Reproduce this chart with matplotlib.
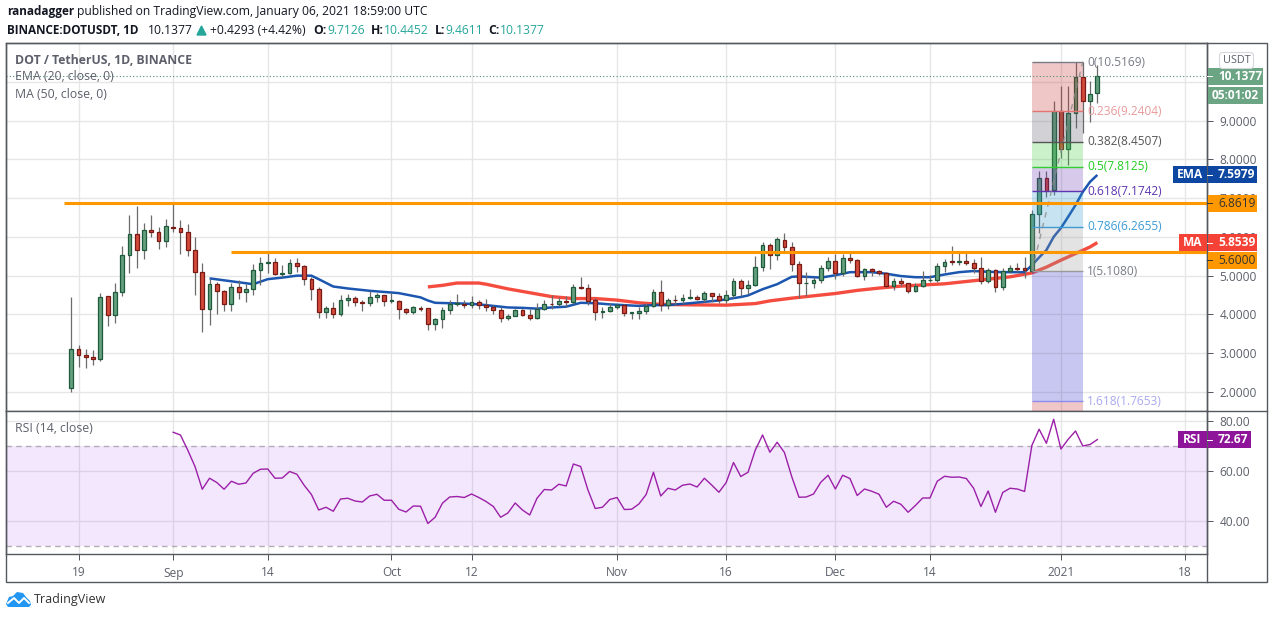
import matplotlib
matplotlib.use('Agg')
import matplotlib.pyplot as plt
from matplotlib.patches import Rectangle, Polygon, FancyBboxPatch

plt.rcParams['font.family'] = ['Open Sans', 'DejaVu Sans']

W, H = 1274, 618

# daily candles, day 0 = 18 Aug 2020
opens = [2.10,3.11,2.95,2.90,2.84,4.47,3.98,4.58,5.53,6.07,5.66,6.18,6.12,5.89,6.25,6.23,6.12,5.66,5.09,4.14,
         4.78,4.60,4.26,4.71,4.58,4.65,5.14,5.32,5.35,5.04,5.07,5.32,5.25,4.91,4.65,4.06,4.16,4.01,4.37,4.42,
         4.32,4.29,4.45,4.50,4.35,4.35,4.14,4.06,4.17,4.16,3.76,3.87,4.12,4.27,4.28,4.24,4.33,4.24,4.19,4.11,
         3.91,3.97,4.12,3.99,3.91,4.15,4.28,4.26,4.35,4.32,4.72,4.69,4.36,4.07,4.10,4.20,4.24,4.05,4.04,4.10,
         4.23,4.59,4.25,4.38,4.36,4.43,4.46,4.40,4.56,4.48,4.36,4.51,4.87,4.68,4.77,5.23,5.80,5.53,5.92,5.74,
         5.30,4.80,4.81,4.90,5.21,5.39,5.07,5.46,5.40,4.98,5.18,5.12,5.08,4.73,4.87,4.82,4.60,4.74,4.89,4.90,
         5.26,5.37,5.35,5.37,5.33,5.20,4.87,5.15,4.71,5.13,5.21,5.20,5.12,6.59,7.53,7.22,9.24,8.26,9.19,10.12,
         9.50,9.7126]
highs = [4.45,3.22,3.12,3.09,4.56,4.47,4.82,5.77,6.57,6.80,6.36,6.57,6.25,6.47,6.85,6.44,6.34,6.00,5.32,4.91,
         4.83,4.63,4.81,4.89,4.78,5.30,5.49,5.58,5.45,5.27,5.43,5.45,5.27,4.96,4.70,4.22,4.32,4.50,4.52,4.47,
         4.37,4.60,4.55,4.50,4.55,4.37,4.16,4.21,4.22,4.16,3.92,4.18,4.36,4.52,4.36,4.47,4.36,4.39,4.24,4.18,
         4.00,4.15,4.15,4.15,4.30,4.36,4.49,4.46,4.47,4.78,4.96,4.79,4.43,4.18,4.30,4.28,4.28,4.06,4.20,4.30,
         4.65,4.88,4.43,4.49,4.52,4.65,4.49,4.61,4.56,4.56,4.62,4.95,4.91,4.88,5.50,5.88,5.85,5.99,6.10,5.86,
         5.39,5.09,4.97,5.27,5.47,5.55,5.55,5.58,5.44,5.21,5.21,5.15,5.10,4.94,4.93,4.82,4.82,5.11,5.01,5.32,
         5.42,5.76,5.63,5.59,5.44,5.47,5.21,5.18,5.21,5.28,5.32,5.47,6.69,7.70,7.71,9.51,9.88,9.88,10.50,10.5169,
         10.01,10.4452]
lows = [2.00,2.64,2.61,2.69,2.79,3.69,3.77,4.47,5.08,5.19,5.44,5.99,5.68,5.73,6.12,5.57,5.52,4.49,3.54,3.72,
        4.00,4.10,4.08,4.41,4.31,4.49,4.75,5.07,5.02,4.96,5.04,5.09,4.77,4.36,3.90,3.90,3.92,3.95,4.23,4.21,
        4.10,4.23,4.31,4.23,4.29,3.87,4.02,4.01,4.10,3.59,3.60,3.65,4.01,4.23,4.17,4.17,4.13,4.08,4.00,3.81,
        3.86,3.96,3.96,3.86,3.88,4.12,4.15,4.23,4.20,4.26,4.65,4.24,3.86,3.91,4.06,4.13,3.96,3.88,3.88,4.01,
        4.20,4.09,4.14,4.24,4.27,4.41,4.36,4.33,4.33,4.30,4.30,4.43,4.48,4.54,4.73,5.11,5.16,5.40,5.59,5.11,
        4.43,4.48,4.67,4.82,5.12,4.92,4.99,5.32,4.96,4.88,4.98,5.01,4.71,4.63,4.74,4.55,4.57,4.71,4.83,4.83,
        5.10,5.28,5.28,5.27,5.08,4.78,4.82,4.58,4.63,5.07,5.09,4.94,5.10,6.10,7.03,7.09,8.03,7.85,8.81,8.67,
        8.97,9.4611]
closes = [3.11,2.95,2.90,2.84,4.45,3.98,4.58,5.53,6.07,5.66,6.18,6.12,5.89,6.28,6.23,6.12,5.66,5.09,4.14,4.78,
          4.60,4.26,4.71,4.58,4.65,5.14,5.32,5.35,5.04,5.07,5.32,5.25,4.91,4.65,4.06,4.16,4.01,4.37,4.42,4.32,
          4.29,4.45,4.50,4.35,4.36,4.14,4.06,4.19,4.15,3.75,3.87,4.12,4.28,4.29,4.24,4.33,4.24,4.19,4.11,3.91,
          3.97,4.12,3.99,3.91,4.15,4.28,4.26,4.35,4.32,4.72,4.68,4.35,4.07,4.10,4.20,4.24,4.05,4.06,4.10,4.23,
          4.59,4.25,4.38,4.36,4.43,4.46,4.40,4.56,4.48,4.36,4.51,4.87,4.68,4.77,5.23,5.80,5.53,5.95,5.74,5.30,
          4.81,4.82,4.90,5.21,5.39,5.07,5.46,5.40,4.98,5.18,5.12,5.08,4.73,4.87,4.82,4.60,4.74,4.90,4.90,5.26,
          5.36,5.35,5.37,5.33,5.20,4.87,5.15,4.71,5.13,5.21,5.18,5.15,6.59,7.53,7.19,9.24,8.26,9.19,10.12,9.50,
          9.69,10.1377]

ema_days = [19,21,23,25,27,29,31,33,34,36,38,41,45,48,49,50,52,54,56,58,60,62,64,66,68,70,72,74,76,78,80,82,85,
            89,90,92,93,95,97,99,100,103,105,107,110,112,114,116,118,120,122,124,126,128,130,131,132,133,134,135,136,137,138,139,140,141]
ema_vals = [4.93,4.88,4.83,4.78,4.91,4.95,5.00,5.00,4.91,4.72,4.67,4.61,4.55,4.44,4.36,4.30,4.29,4.28,4.26,4.22,4.18,4.17,4.15,4.18,4.20,4.30,4.29,4.26,4.24,4.22,4.24,4.24,4.29,
            4.36,4.39,4.45,4.49,4.65,4.78,4.97,4.98,4.95,5.01,5.09,5.09,5.05,4.99,4.96,4.96,5.03,5.09,5.12,5.10,5.09,5.09,5.09,5.27,5.47,5.66,6.00,6.23,6.52,6.82,7.16,7.42,7.5979]

ma_days = [49,51,53,56,57,60,63,66,69,72,75,78,81,84,90,94,96,99,102,105,108,111,114,117,120,123,126,129,132,134,136,138,140,141]
ma_vals = [4.71,4.75,4.81,4.81,4.78,4.66,4.56,4.46,4.41,4.41,4.37,4.30,4.26,4.25,4.24,4.28,4.35,4.42,4.48,4.54,4.62,4.68,4.73,4.76,4.79,4.85,4.91,4.97,5.07,5.22,5.40,5.57,5.74,5.8539]

rsi_start = 14
rsi_vals = [75.6,74.5,68.5,61.9,52.8,57.2,55.5,52.8,56.0,54.8,55.3,59.2,60.8,60.9,57.2,57.3,59.9,58.8,54.4,50.7,
            44.5,45.6,44.0,48.9,49.2,48.1,47.7,50.1,50.8,48.4,48.4,44.8,43.7,46.1,46.0,39.1,41.6,47.2,49.7,49.9,
            49.5,50.9,49.5,47.9,45.9,41.6,43.3,47.3,44.5,42.5,49.2,52.7,52.5,54.8,54.1,62.9,61.9,52.5,45.1,45.6,
            48.7,49.5,44.7,44.8,46.9,50.7,59.6,50.1,53.2,52.5,54.4,54.9,53.7,57.2,54.5,51.6,55.5,63.5,57.9,59.6,
            68.5,74.5,67.6,71.6,67.5,57.9,49.6,49.7,50.9,55.6,58.4,52.9,58.4,57.1,50.3,52.9,52.0,50.8,45.6,48.0,
            46.8,43.6,46.3,49.3,49.3,56.0,58.0,57.6,57.7,57.1,53.2,45.9,52.1,43.6,51.5,53.2,52.9,51.9,70.3,76.8,
            71.2,80.8,68.9,72.8,76.1,70.1,70.7,72.67]

tick_days = [1,14,27,44,55,75,90,105,118,136,153]
tick_labels = ['19','Sep','14','Oct','12','Nov','16','Dec','14','2021','18']
price_ticks = [2,3,4,5,6,7,8,9,10]
price_labels = ['2.0000','3.0000','4.0000','5.0000','6.0000','7.0000','8.0000','9.0000','']
rsi_ticks = [40,60,80]

# fib retracement
fib_levels = [0,0.236,0.382,0.5,0.618,0.786,1,1.618]
fib_prices = [10.5169,9.2404,8.4507,7.8125,7.1742,6.2655,5.1080,1.7653]
fib_line_cols = ['#787b86','#e57373','#555555','#33cc33','#5e35b1','#3d9bd4','#9a9a9a','#8c8cf0']
fib_text_cols = ['#787b86','#e89a9a','#555555','#22cc22','#5e35b1','#3d9bd4','#787b86','#a9a9f0']
fib_fills = ['#c83232','#5a5a6a','#3fcc3f','#6a3ab0','#3399cc','#999999','#3333cc']

up_fill, up_edge = '#64a07e', '#1f5a3c'
dn_fill, dn_edge = '#d24a3a', '#7a1a14'
grid_col = '#e6e6e6'
frame_col = '#55585f'
text_col = '#5d606b'
px = 0.72


def box(left, top, right, bottom):
    return [left / W, 1 - bottom / H, (right - left) / W, (bottom - top) / H]


fig = plt.figure(figsize=(W / 100, H / 100), dpi=100, facecolor='white')
ax = fig.add_axes(box(6, 43, 1207, 411))
rsi = fig.add_axes(box(6, 411, 1207, 554), sharex=ax)

xmin, xmax = -8.97, 156.07
ax.set_xlim(xmin, xmax)
ax.set_ylim(1.51, 11.0)
rsi.set_ylim(26.9, 84.1)

for a in (ax, rsi):
    a.set_axisbelow(True)
    a.grid(True, color=grid_col, lw=1.0)
    for s in a.spines.values():
        s.set_color(frame_col)
        s.set_linewidth(1.0)

ax.set_yticks(price_ticks, price_labels)
ax.yaxis.tick_right()
ax.tick_params(axis='y', length=4, width=px, color=frame_col, labelcolor=text_col, labelsize=8.6, pad=5)
ax.tick_params(axis='x', length=0, labelbottom=False)

rsi.set_xticks(tick_days, tick_labels)
rsi.set_yticks(rsi_ticks, ['%.2f' % v for v in rsi_ticks])
rsi.yaxis.tick_right()
rsi.tick_params(axis='y', length=4, width=px, color=frame_col, labelcolor=text_col, labelsize=8.6, pad=5)
rsi.tick_params(axis='x', length=4, width=px, color=frame_col, labelcolor=text_col, labelsize=8.6, pad=5)

# moving averages under the candles
ax.plot(ma_days, ma_vals, color='#f44336', lw=2.4, alpha=0.95, zorder=2, solid_capstyle='butt')
ax.plot(ema_days, ema_vals, color='#0f4dab', lw=1.8, alpha=0.95, zorder=2.1, solid_capstyle='butt')

days = list(range(len(opens)))
body_low = [min(o, c) for o, c in zip(opens, closes)]
body_h = [abs(c - o) for o, c in zip(opens, closes)]
fills = [up_fill if c >= o else dn_fill for o, c in zip(opens, closes)]
edges = [up_edge if c >= o else dn_edge for o, c in zip(opens, closes)]
ax.vlines(days, lows, highs, color='#6b6b6b', lw=0.9, zorder=3)
ax.bar(days, body_h, bottom=body_low, width=0.52, color=fills, edgecolor=edges, linewidth=0.9, zorder=3.1)

# fib block
fx0, fx1 = 132, 139
for i in range(len(fib_fills)):
    ax.fill_between([fx0, fx1], fib_prices[i + 1], fib_prices[i], color=fib_fills[i], alpha=0.27, lw=0, zorder=4)
ax.fill_between([fx0, fx1], 1.51, fib_prices[-1], color=fib_fills[0], alpha=0.27, lw=0, zorder=4)
ax.hlines(fib_prices, fx0, fx1, colors=fib_line_cols, lw=1.0, zorder=4.1)
ax.plot([fx0, fx1], [fib_prices[6], fib_prices[0]], color='#8a8a8a', lw=1.0, ls=(0, (4, 4)), alpha=0.8, zorder=4.2)

# support lines and last price
ax.hlines([6.8619], -1, xmax, color='#ff9800', lw=2.2, zorder=5)
ax.hlines([5.6], 22, xmax, color='#ff9800', lw=2.2, zorder=5)
ax.hlines([closes[-1]], xmin, xmax, color='#4f8f72', lw=0.8, ls=(0, (1, 2)), zorder=5)

# RSI pane
rsi.axhspan(30, 70, facecolor='#9a3ff0', alpha=0.12, lw=0, zorder=1)
rsi.hlines([30, 70], xmin, xmax, color='#b3acb8', lw=1.0, ls=(0, (4, 3)), zorder=2)
rsi.plot(range(rsi_start, rsi_start + len(rsi_vals)), rsi_vals, color='#9c1fa8', lw=1.0, zorder=3)

# overlay in pixels for header, tags and logo
ov = fig.add_axes([0, 0, 1, 1], facecolor='none')
ov.set_xlim(0, W)
ov.set_ylim(H, 0)
ov.axis('off')
ov.add_patch(Rectangle((6, 43), 1261, 539, fill=False, ec=frame_col, lw=1.0))
ov.plot([1207, 1207], [43, 582], color=frame_col, lw=1.0)
ov.plot([1207, 1267], [411, 411], color=frame_col, lw=1.0)


def label(x, y, s, col='#131722', size=8.6, weight='normal', ha='left'):
    ov.text(x, y, s, color=col, fontsize=size, fontweight=weight, ha=ha, va='center')


label(7, 12, 'ranadagger', weight='bold', size=8.5)
label(77, 12, 'published on TradingView.com, January 06, 2021 18:59:00 UTC', size=8.75)
label(7, 30, 'BINANCE:DOTUSDT, 1D', weight='bold', size=8.5)
label(148, 30, '10.1377', size=8.75)
ov.add_patch(Polygon([[197, 35], [206, 35], [201.5, 26]], color='#26a69a'))
label(210, 30, '+0.4293 (+4.42%)', size=8.75)
tealc = '#26a69a'
for xk, k, xv, v in [(313, 'O:', 327, '9.7126'), (371, 'H:', 384, '10.4452'),
                     (435, 'L:', 445, '9.4611'), (488, 'C:', 500, '10.1377')]:
    label(xk, 30, k, weight='bold', size=8.75)
    label(xv, 30, v, col=tealc, size=8.75)

label(15, 60, 'DOT / TetherUS, 1D, BINANCE', col=text_col, weight='bold', size=8.8)
label(15, 77, 'EMA (20, close, 0)', col=text_col, size=8.8)
label(15, 95, 'MA (50, close, 0)', col=text_col, size=8.8)
label(15, 428, 'RSI (14, close)', col=text_col, size=8.8)

fib_y = [618 - ax.transData.transform((0, p))[1] for p in fib_prices]
for lev, p, yy, c in zip(fib_levels, fib_prices, fib_y, fib_text_cols):
    s = '%g(%.4f)' % (lev, p)
    yy = max(yy, 62)
    label(1087, yy, s, col=c, size=8.6)


def ypx(a, v):
    return H - a.transData.transform((0, v))[1]


def tag(y, text, col, txtcol='white', name=None, name_x=None, right=1257):
    ov.add_patch(Rectangle((1207.5, y - 8.5), right - 1207.5, 17, color=col, lw=0, zorder=6))
    ov.plot([1207, 1212], [y, y], color=txtcol, lw=0.7, zorder=7)
    ov.text(1218, y, text, color=txtcol, fontsize=8.6, fontweight='bold' if txtcol == 'white' else 'normal',
            ha='left', va='center', zorder=7)
    if name:
        ov.add_patch(Rectangle((name_x, y - 8.5), 1206.5 - name_x, 17, color=col, lw=0, zorder=6))
        ov.text((name_x + 1206) / 2, y, name, color='white', fontsize=8.6, fontweight='bold',
                ha='center', va='center', zorder=7)


green_tag = '#6ba583'
tag(ypx(ax, closes[-1]), '10.1377', green_tag, right=1263)
ov.add_patch(Rectangle((1207.5, 87), 55.5, 17, color=green_tag, lw=0, zorder=6))
ov.text(1212, 95.5, '05:01:02', color='white', fontsize=8.6, fontweight='bold', va='center', zorder=7)
tag(ypx(ax, 7.5979), '7.5979', '#0d47a1', name='EMA', name_x=1173)
tag(ypx(ax, 6.8619), '6.8619', '#ff9800', txtcol='#333333')
tag(ypx(ax, 5.8539), '5.8539', '#f44336', name='MA', name_x=1179)
tag(ypx(ax, 5.6) + 8, '5.6000', '#ff9800', txtcol='#333333')
tag(ypx(rsi, 72.67), '72.67', '#8e1599', name='RSI', name_x=1178, right=1251)

ov.add_patch(FancyBboxPatch((1221, 54), 31, 13, boxstyle='round,pad=1.5,rounding_size=3',
                            fc='white', ec='#d5d7dd', lw=0.8, zorder=6))
ov.text(1236.5, 60.5, 'USDT', color=text_col, fontsize=7.8, ha='center', va='center', zorder=7)

# logo
ov.add_patch(Polygon([[6, 604], [9, 597], [13, 596], [17, 592], [23, 593], [26, 597], [30, 601], [31, 605],
                      [29, 607], [8, 607]], color='#2196f3', lw=0))
ov.plot([8, 14, 19, 24, 29], [603, 598, 603, 598, 603], color='white', lw=1.4)
label(34, 600, 'TradingView', col='#333333', size=9)

fig.savefig('out.png', dpi=100)
